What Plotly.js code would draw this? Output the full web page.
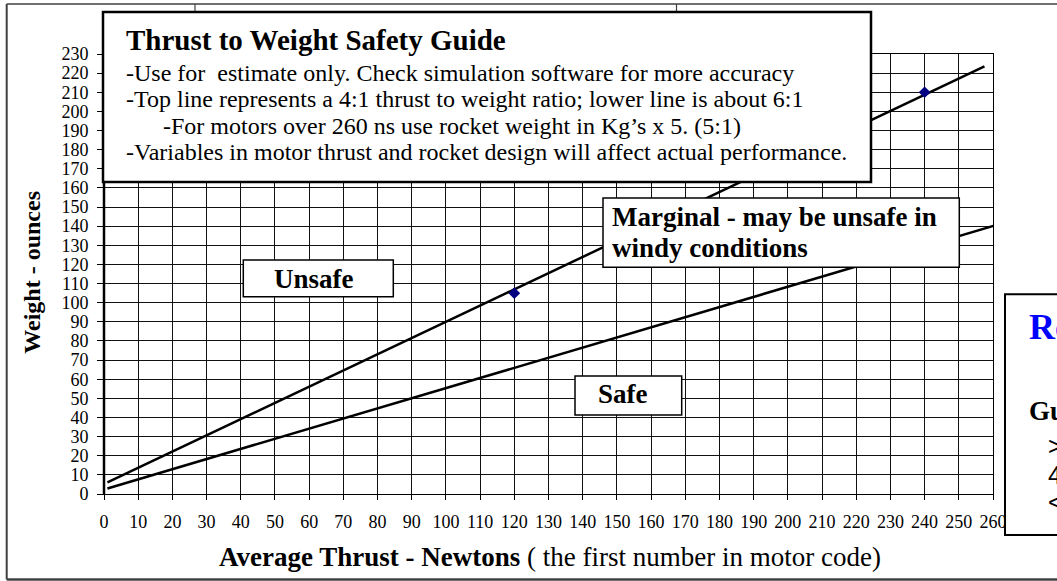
<!DOCTYPE html>
<html><head><meta charset="utf-8">
<script src="https://cdn.plot.ly/plotly-3.0.1.min.js"></script>
<style>html,body{margin:0;padding:0;background:#fff;overflow:hidden;} #chart{width:1057px;height:581px;}</style>
</head><body><div id="chart"></div>
<script>
// ---- data ----
const upperThrust = [1, 257.5];      // 4:1 line (Newtons)
const upperWeight = [6.1, 223.5];    // ounces
const lowerThrust = [1, 261.3];      // ~6:1 line
const lowerWeight = [2.9, 140.8];
const pointThrust = [120, 240];      // marked points
const pointWeight = [105, 210];
const xTickVals = [0,10,20,30,40,50,60,70,80,90,100,110,120,130,140,150,160,170,180,190,200,210,220,230,240,250,260];
const yTickVals = [0,10,20,30,40,50,60,70,80,90,100,110,120,130,140,150,160,170,180,190,200,210,220,230];

const titleText = "Thrust to Weight Safety Guide";
const noteLines = [
  "-Use for  estimate only. Check simulation software for more accuracy",
  "-Top line represents a 4:1 thrust to weight ratio; lower line is about 6:1",
  "-For motors over 260 ns use rocket weight in Kg\u2019s x 5. (5:1)",
  "-Variables in motor thrust and rocket design will affect actual performance."
];

// ---- pixel helpers for decorations ----
const PL = 104, PR = 993, PT = 54, PB = 494;
const px = x => (x - PL) / (PR - PL);
const py = y => (PB - y) / (PB - PT);
const SERIF = "Liberation Serif, Times New Roman, serif";
const SANS = "Liberation Sans, Arial, sans-serif";

function rect(x0, y0, x1, y1, w, col) {
  return {type:'rect', xref:'paper', yref:'paper', x0:px(x0), x1:px(x1), y0:py(y1), y1:py(y0),
          fillcolor:'#ffffff', line:{color:col||'#000', width:w||1.5}, layer:'above'};
}
function seg(x0, y0, x1, y1, w, col) {
  return {type:'line', xref:'paper', yref:'paper', x0:px(x0), x1:px(x1), y0:py(y0), y1:py(y1),
          line:{color:col||'#000', width:w||1}, layer:'above'};
}
function txt(x, y, text, size, opts) {
  opts = opts || {};
  return Object.assign({xref:'paper', yref:'paper', x:px(x), y:py(y), text:text, showarrow:false,
    xanchor:'left', yanchor:'middle', font:{family:SERIF, size:size, color:'#000'}}, opts);
}

const traces = [
  {x: upperThrust, y: upperWeight, mode:'lines', line:{color:'#000', width:2.5}, hoverinfo:'skip'},
  {x: lowerThrust, y: lowerWeight, mode:'lines', line:{color:'#000', width:2.5}, hoverinfo:'skip'},
  {x: pointThrust, y: pointWeight, mode:'markers', marker:{symbol:'diamond', size:9, color:'#000080'}, hoverinfo:'skip'}
];

const shapes = [
  seg(104, 54, 104, 494, 2.5),
  // outer page frame
  seg(6.7, 4, 6.7, 579.5, 2, '#404040'),
  seg(6.7, 4, 1080, 4, 1.5, '#404040'),
  seg(6.7, 579.5, 1080, 579.5, 2.5, '#404040'),
  seg(195, 4, 195, 12, 1.2, '#404040'),
  seg(676.5, 4, 676.5, 12, 1.2, '#404040'),
  // boxes
  rect(103, 12, 871, 182, 2.5),
  rect(243.3, 260, 393.3, 296.7, 1.5),
  rect(575, 376, 681.7, 415, 1.5),
  rect(603, 198, 959.3, 267.3, 1.5),
  rect(1005, 294.3, 1080, 535, 2)
];

const annotations = [
  txt(124, 40, "<b>" + titleText + "</b>", 29),
  txt(124, 73, noteLines[0], 24),
  txt(124, 99, noteLines[1], 24),
  txt(160.7, 126, noteLines[2], 24),
  txt(124, 152, noteLines[3], 24),
  txt(314, 279, "<b>Unsafe</b>", 27, {xanchor:'center'}),
  txt(623, 394, "<b>Safe</b>", 27, {xanchor:'center'}),
  txt(609.5, 217, "<b>Marginal - may be unsafe in</b>", 27),
  txt(609.5, 248, "<b>windy conditions</b>", 27),
  txt(1026.7, 327, "<b>Ro</b>", 36, {font:{family:SERIF, size:36, color:'#0000ff'}}),
  txt(1026.7, 411, "<b>Gu</b>", 27),
  txt(1046, 446, "&gt;", 25, {font:{family:SANS, size:25, color:'#000'}}),
  txt(1046, 475, "4", 25, {font:{family:SANS, size:25, color:'#000'}}),
  txt(1046, 502, "&lt;", 25, {font:{family:SANS, size:25, color:'#000'}}),
  // axis titles
  txt(31.7, 272, "<b>Weight - ounces</b>", 24, {xanchor:'center', textangle:-90}),
  txt(216.7, 557, "<b>Average Thrust - Newtons</b> ( the first number in motor code)", 27)
];

const layout = {
  width:1057, height:581,
  margin:{l:PL, r:1057-PR, t:PT, b:581-PB, pad:0},
  paper_bgcolor:'#ffffff', plot_bgcolor:'#ffffff',
  showlegend:false,
  xaxis:{range:[0,260], tickmode:'array', tickvals:xTickVals, ticktext:xTickVals.map(String),
    showgrid:true, gridcolor:'#111', gridwidth:1, zeroline:false,
    showline:true, mirror:true, linecolor:'#000', linewidth:1,
    ticks:'outside', ticklen:5, tickcolor:'#000', tickwidth:1, ticklabelstandoff:6,
    tickfont:{family:SERIF, size:18, color:'#000'}, fixedrange:true},
  yaxis:{range:[0,230], tickmode:'array', tickvals:yTickVals, ticktext:yTickVals.map(String),
    showgrid:true, gridcolor:'#111', gridwidth:1, zeroline:false,
    showline:true, mirror:true, linecolor:'#000', linewidth:1,
    ticks:'outside', ticklen:6, tickcolor:'#000', tickwidth:1, ticklabelstandoff:5,
    tickfont:{family:SERIF, size:18, color:'#000'}, fixedrange:true},
  shapes:shapes,
  annotations:annotations
};

Plotly.newPlot('chart', traces, layout, {staticPlot:true, displayModeBar:false});
</script>
</body></html>
